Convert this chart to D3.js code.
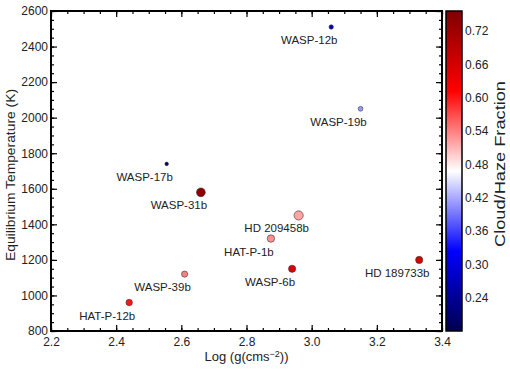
<!DOCTYPE html>
<html>
<head>
<meta charset="utf-8">
<script src="https://cdn.jsdelivr.net/npm/d3@7"></script>
<style>
  body { margin: 0; background: #fff; }
  svg { display: block; font-family: "Liberation Sans", Arial, sans-serif; }
</style>
</head>
<body>
<svg id="chart" width="510" height="370"></svg>
<script>
// data
const planets = ["WASP-12b", "WASP-19b", "WASP-17b", "WASP-31b", "HD 209458b",
                 "HAT-P-1b", "HD 189733b", "WASP-6b", "WASP-39b", "HAT-P-12b"];
const logG = [3.06, 3.15, 2.555, 2.66, 2.96, 2.875, 3.33, 2.94, 2.61, 2.44];
const teq = [2510, 2050, 1740, 1580, 1450, 1320, 1200, 1150, 1120, 960];
const hazeFrac = [0.29, 0.41, 0.20, 0.74, 0.52, 0.53, 0.65, 0.65, 0.54, 0.60];
const markerWeight = [2.2, 2.4, 1.8, 4.4, 4.6, 3.7, 3.6, 3.6, 3.1, 3.2];

const xTicks = [2.2, 2.4, 2.6, 2.8, 3.0, 3.2, 3.4];
const yTicks = [800, 1000, 1200, 1400, 1600, 1800, 2000, 2200, 2400, 2600];
const cbTicks = [0.24, 0.30, 0.36, 0.42, 0.48, 0.54, 0.60, 0.66, 0.72];
const cbRange = [0.18, 0.756];

const svg = d3.select("#chart");
const plot = { left: 51, right: 442, top: 11, bottom: 331 };

const x = d3.scaleLinear().domain([2.2, 3.4]).range([plot.left, plot.right]);
const y = d3.scaleLinear().domain([800, 2600]).range([plot.bottom, plot.top]);
const r = d3.scaleLinear().domain([0, 1]).range([0, 1]);

// seismic-like diverging map
const cmap = d3.scaleLinear()
  .domain([0, 0.25, 0.5, 0.75, 1])
  .range(["#00004d", "#0000ff", "#ffffff", "#ff0000", "#800000"]);
const colorOf = v => cmap((v - cbRange[0]) / (cbRange[1] - cbRange[0]));

const minorX = d3.range(2.2, 3.4001, 0.05);
const minorY = d3.range(800, 2600.1, 50);

function styleAxis(g) {
  g.select(".domain").remove();
  g.selectAll(".tick line").attr("stroke", "#000").attr("stroke-width", 1.2);
  g.selectAll(".tick text").attr("font-size", 12).attr("fill", "#222");
}

// minor ticks (inward, all sides)
svg.append("g").attr("transform", `translate(0,${plot.bottom})`)
  .call(d3.axisBottom(x).tickValues(minorX).tickSize(-3).tickFormat("")).call(styleAxis);
svg.append("g").attr("transform", `translate(0,${plot.top})`)
  .call(d3.axisTop(x).tickValues(minorX).tickSize(-3).tickFormat("")).call(styleAxis);
svg.append("g").attr("transform", `translate(${plot.left},0)`)
  .call(d3.axisLeft(y).tickValues(minorY).tickSize(-3).tickFormat("")).call(styleAxis);
svg.append("g").attr("transform", `translate(${plot.right},0)`)
  .call(d3.axisRight(y).tickValues(minorY).tickSize(-3).tickFormat("")).call(styleAxis);

// major ticks + labels
svg.append("g").attr("transform", `translate(0,${plot.bottom})`)
  .call(d3.axisBottom(x).tickValues(xTicks).tickSize(-6).tickPadding(6).tickFormat(d3.format(".1f")))
  .call(styleAxis);
svg.append("g").attr("transform", `translate(0,${plot.top})`)
  .call(d3.axisTop(x).tickValues(xTicks).tickSize(-6).tickFormat("")).call(styleAxis);
svg.append("g").attr("transform", `translate(${plot.left},0)`)
  .call(d3.axisLeft(y).tickValues(yTicks).tickSize(-6).tickPadding(3).tickFormat(d3.format("d")))
  .call(styleAxis);
svg.append("g").attr("transform", `translate(${plot.right},0)`)
  .call(d3.axisRight(y).tickValues(yTicks).tickSize(-6).tickFormat("")).call(styleAxis);

// frame
svg.append("rect")
  .attr("x", plot.left).attr("y", plot.top)
  .attr("width", plot.right - plot.left).attr("height", plot.bottom - plot.top)
  .attr("fill", "none").attr("stroke", "#000").attr("stroke-width", 2);

// axis titles
svg.append("text")
  .attr("x", (plot.left + plot.right) / 2).attr("y", 361)
  .attr("text-anchor", "middle").attr("font-size", 13).attr("fill", "#222")
  .call(t => {
    t.append("tspan").text("Log (g(cms");
    t.append("tspan").attr("dy", -4).attr("font-size", 9).text("\u22122");
    t.append("tspan").attr("dy", 4).text("))");
  });

svg.append("text")
  .attr("transform", `translate(15,${(plot.top + plot.bottom) / 2 + 4}) rotate(-90)`)
  .attr("text-anchor", "middle").attr("font-size", 13.5).attr("fill", "#222")
  .attr("textLength", 172).attr("lengthAdjust", "spacingAndGlyphs")
  .text("Equilibrium Temperature (K)");

// points
const rows = planets.map((name, i) => ({
  name, g: logG[i], t: teq[i], f: hazeFrac[i], w: markerWeight[i]
}));

svg.append("g").selectAll("circle")
  .data(rows)
  .join("circle")
  .attr("cx", d => x(d.g))
  .attr("cy", d => y(d.t))
  .attr("r", d => r(d.w))
  .attr("fill", d => colorOf(d.f))
  .attr("stroke", "#333")
  .attr("stroke-width", 0.6);

svg.append("g").selectAll("text")
  .data(rows)
  .join("text")
  .attr("x", d => x(d.g) - 22)
  .attr("y", d => y(d.t) + 17)
  .attr("text-anchor", "middle")
  .attr("font-size", 11.5)
  .attr("fill", "#222")
  .text(d => d.name);

// colorbar
const cb = { left: 446, right: 462 };
const cbY = d3.scaleLinear().domain(cbRange).range([plot.bottom, plot.top]);

const grad = svg.append("defs").append("linearGradient")
  .attr("id", "cbgrad").attr("x1", 0).attr("y1", 1).attr("x2", 0).attr("y2", 0);
d3.range(0, 1.0001, 0.05).forEach(s => {
  grad.append("stop").attr("offset", s).attr("stop-color", cmap(s));
});

svg.append("rect")
  .attr("x", cb.left).attr("y", plot.top)
  .attr("width", cb.right - cb.left).attr("height", plot.bottom - plot.top)
  .attr("fill", "url(#cbgrad)").attr("stroke", "#000").attr("stroke-width", 1.5);

svg.append("g").attr("transform", `translate(${cb.right},0)`)
  .call(d3.axisRight(cbY).tickValues(cbTicks).tickSize(0).tickPadding(3).tickFormat(d3.format(".2f")))
  .call(styleAxis);

svg.append("text")
  .attr("transform", `translate(505,${(plot.top + plot.bottom) / 2 - 7}) rotate(-90)`)
  .attr("text-anchor", "middle").attr("font-size", 14.5).attr("fill", "#222")
  .attr("textLength", 166).attr("lengthAdjust", "spacingAndGlyphs")
  .text("Cloud/Haze Fraction");
</script>
</body>
</html>
